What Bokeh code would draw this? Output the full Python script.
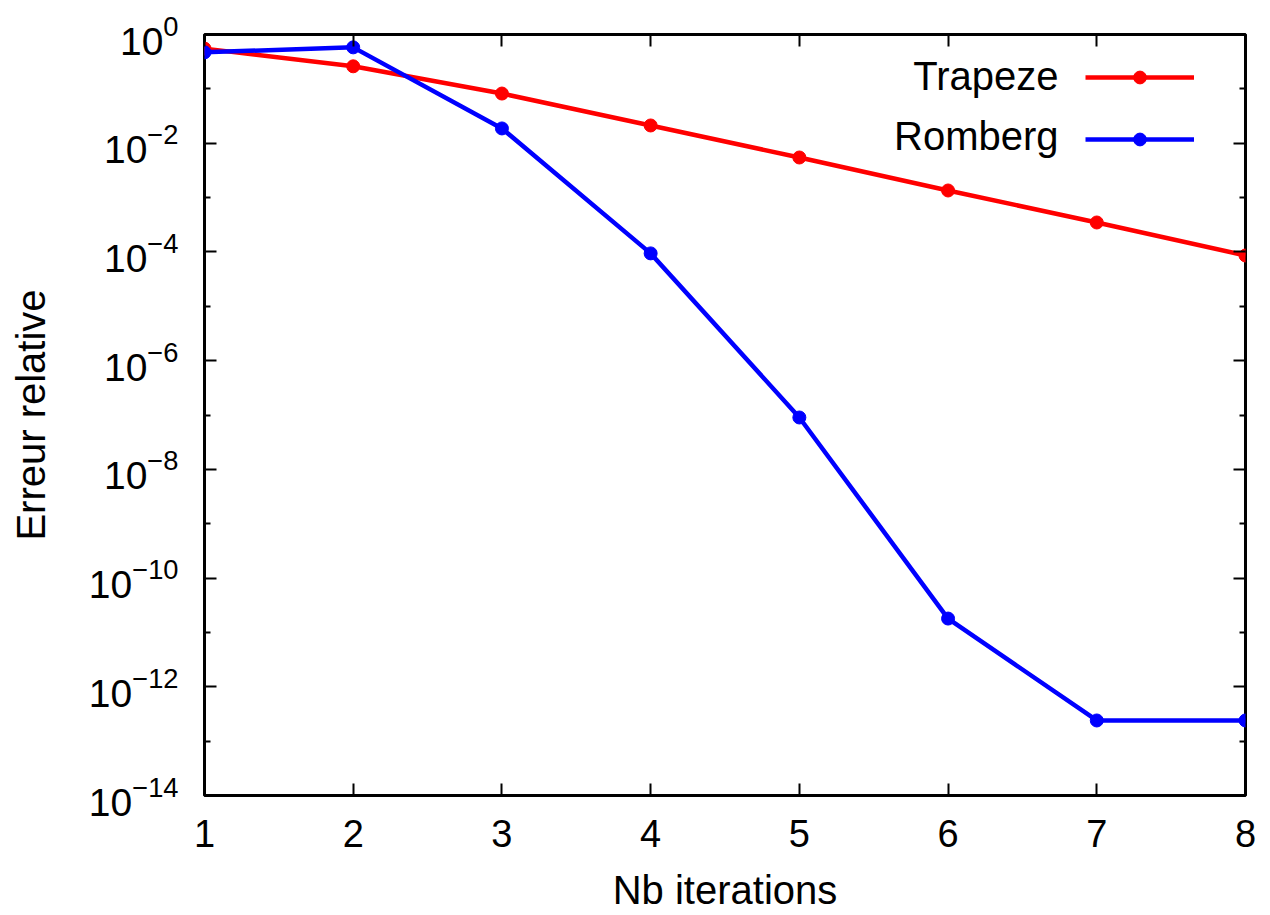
from bokeh.plotting import figure
from bokeh.models import (LogAxis, LinearAxis, FixedTicker, CustomJSTickFormatter,
                          Legend, LegendItem, Label, Range1d)
from bokeh.embed import file_html
from bokeh.resources import INLINE

# ---- data ----
iterations = [1, 2, 3, 4, 5, 6, 7, 8]
trapeze = [0.55, 0.26, 0.082, 0.0212, 0.00546, 0.00135, 3.48e-4, 8.6e-5]
romberg = [0.47, 0.58, 0.0187, 9.4e-5, 9.0e-8, 1.8e-11, 2.4e-13, 2.4e-13]

y_major = [1e0, 1e-2, 1e-4, 1e-6, 1e-8, 1e-10, 1e-12, 1e-14]
y_minor = [1e-1, 1e-3, 1e-5, 1e-7, 1e-9, 1e-11, 1e-13]
x_ticks = [1, 2, 3, 4, 5, 6, 7, 8]

series_names = ["Trapeze", "Romberg"]
series_colors = ["#ff0000", "#0000ff"]

FONT = "Liberation Sans"

p = figure(width=1270, height=915, y_axis_type="log",
           x_range=Range1d(1, 8), y_range=Range1d(1e-14, 1e0),
           output_backend="svg", toolbar_location=None,
           min_border_left=204, min_border_right=25,
           min_border_top=34, min_border_bottom=120)

p.background_fill_color = "white"
p.border_fill_color = "white"
p.grid.visible = False
p.outline_line_color = "black"
p.outline_line_width = 3
p.outline_line_alpha = 1.0

yt = FixedTicker(ticks=y_major, minor_ticks=y_minor)
xt = FixedTicker(ticks=x_ticks, minor_ticks=[])


def style_axis(ax):
    ax.axis_line_color = None
    ax.major_tick_in = 12
    ax.major_tick_out = 0
    ax.minor_tick_in = 6
    ax.minor_tick_out = 0
    ax.major_tick_line_width = 2
    ax.minor_tick_line_width = 2
    ax.major_tick_line_color = "black"
    ax.minor_tick_line_color = "black"
    ax.major_label_text_font = FONT
    ax.major_label_text_color = "black"
    ax.axis_label_text_font = FONT
    ax.axis_label_text_font_style = "normal"
    ax.axis_label_text_color = "black"


ya = p.yaxis[0]
ya.ticker = yt
style_axis(ya)
ya.major_label_text_font_size = "39px"
ya.major_label_standoff = 26
ya.axis_label = "Erreur relative"
ya.axis_label_text_font_size = "40px"
ya.axis_label_standoff = 33

xa = p.xaxis[0]
xa.ticker = xt
style_axis(xa)
xa.major_label_text_font_size = "38px"
xa.major_label_standoff = 24
xa.major_label_text_line_height = 1.0
xa.axis_label = "Nb iterations"
xa.axis_label_text_font_size = "40px"
xa.axis_label_text_line_height = 1.0
xa.axis_label_standoff = 18

blank = CustomJSTickFormatter(code="return ''")

ra = LogAxis(ticker=yt, formatter=blank)
style_axis(ra)
ra.major_label_text_font_size = "1px"
ra.major_label_standoff = 0
p.add_layout(ra, "right")

ta = LinearAxis(ticker=xt, formatter=CustomJSTickFormatter(code="return ''"))
style_axis(ta)
ta.major_label_text_font_size = "1px"
ta.major_label_standoff = 0
p.add_layout(ta, "above")

items = []
for vals, color in zip([trapeze, romberg], series_colors):
    ln = p.line(iterations, vals, line_color=color, line_width=4.5)
    sc = p.scatter(iterations, vals, size=13, fill_color=color, line_color=color)
    items.append(LegendItem(label=" ", renderers=[ln, sc]))

legend = Legend(items=items, location=(881, 640), orientation="vertical",
                glyph_width=109, glyph_height=32, spacing=30, padding=0, margin=0,
                label_standoff=0, label_width=51, label_height=20,
                label_text_font_size="1px",
                background_fill_alpha=0, border_line_color=None)
p.add_layout(legend)

# legend texts, gnuplot style (text left of the sample)
label_y = [0.1688, 0.0133]
for name, yy in zip(series_names, label_y):
    p.add_layout(Label(x=6.743, y=yy, text=name, text_align="right",
                       text_baseline="alphabetic", text_font=FONT,
                       text_font_size="40px", text_color="black"))

open("out.html", "w").write(file_html(p, INLINE))
